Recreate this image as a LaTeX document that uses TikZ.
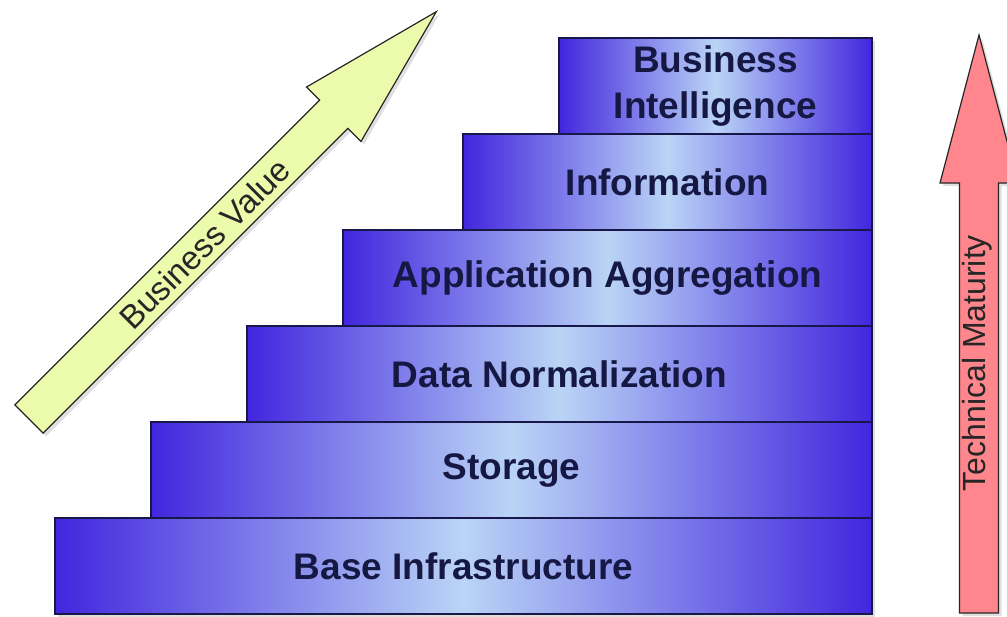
\documentclass[tikz,border=0pt]{standalone}
\usepackage{fontspec}
\setmainfont{Liberation Sans}
\usetikzlibrary{positioning,shadows}
\definecolor{stepblue}{RGB}{66,38,222}
\definecolor{steplight}{RGB}{186,212,246}
\definecolor{stepline}{RGB}{24,24,72}
\definecolor{steptext}{RGB}{22,24,68}
\definecolor{valueyellow}{RGB}{236,250,172}
\definecolor{maturityred}{RGB}{255,134,140}
\tikzset{
  stepbox/.style={draw=stepline,line width=1.2pt,
    left color=stepblue,right color=stepblue,middle color=steplight,
    minimum height=96pt,inner sep=0pt,outer sep=0pt,
    text=steptext,font=\fontsize{37}{46}\selectfont\bfseries,align=center,
    drop shadow={opacity=0.25,shadow xshift=3pt,shadow yshift=-3pt}},
  bigarrow/.style={draw=black!85,line width=1.2pt,
    drop shadow={opacity=0.25,shadow xshift=3pt,shadow yshift=-3pt}},
  arrowtext/.style={font=\fontsize{#1}{#1}\selectfont,text=black!85,inner sep=0pt}
}
\begin{document}
\begin{tikzpicture}[x=1pt,y=-1pt]
  \clip (0,0) rectangle (1007,616);

  % staircase, top step first
  \node [stepbox,minimum width=313pt,anchor=north east] (bi) at (872,38) {Business\\Intelligence};
  \node [stepbox,minimum width=409pt,below=0pt of bi.south east,anchor=north east] (info) {Information};
  \node [stepbox,minimum width=529pt,below=0pt of info.south east,anchor=north east] (appagg) {Application Aggregation};
  \node [stepbox,minimum width=625pt,below=0pt of appagg.south east,anchor=north east] (datanorm) {Data Normalization};
  \node [stepbox,minimum width=721pt,below=0pt of datanorm.south east,anchor=north east] (storage) {Storage};
  \node [stepbox,minimum width=817pt,below=0pt of storage.south east,anchor=north east] (base) {Base Infrastructure};

  % business value arrow
  \begin{scope}[shift={(29,419)},rotate=45]
    \draw [bigarrow,fill=valueyellow] (0,-20) -- (431,-20) -- (431,-38.5) -- (576,0)
      -- (431,38.5) -- (431,20) -- (0,20) -- cycle;
    \node [arrowtext=33,rotate=45] (value) at (248,0) {Business Value};
  \end{scope}

  % technical maturity arrow
  \draw [bigarrow,fill=maturityred] (959.5,613) -- (959.5,183) -- (940,183) -- (979,35)
    -- (1018,183) -- (998.5,183) -- (998.5,613) -- cycle;
  \node [arrowtext=32,rotate=90,anchor=base] (maturity) at (985,363) {Technical Maturity};
\end{tikzpicture}
\end{document}
